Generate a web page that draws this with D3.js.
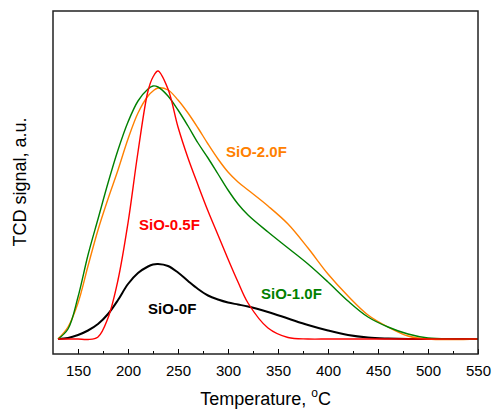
<!DOCTYPE html>
<html>
<head>
  <meta charset="utf-8">
  <script src="https://d3js.org/d3.v7.min.js"></script>
  <style>
    body { margin: 0; background: #fff; }
    text { font-family: Arial, "Liberation Sans", sans-serif; }
  </style>
</head>
<body>
<script>
// temperature grid (°C)
var temps = [130, 140, 150, 160, 170, 180, 190, 200, 210, 220, 225, 230, 240, 250, 260, 270, 280, 290, 300, 310, 320, 340, 360, 380, 400, 420, 440, 460, 480, 500, 525, 550];

// TCD signal, arbitrary units
var sio0F  = [15, 16, 19, 23.5, 30, 40, 54, 70, 81, 87.5, 89.5, 90, 88, 81.5, 73, 65, 58.5, 54.5, 51.5, 49.5, 47.5, 42, 35.5, 29, 23.5, 19, 16.5, 15.5, 15, 15, 15, 15];
var sio05F = [15, 15, 15, 14.5, 17, 36, 74, 131, 202, 263, 277, 283, 265, 227, 196, 169, 143, 119, 95, 72, 51, 26, 16.5, 15, 15, 15, 15, 15, 15, 15, 15, 15];
var sio10F = [15, 25, 57, 99, 135, 171, 204, 232, 253, 265, 268, 267, 258, 244, 228, 211, 196, 180, 164, 150, 139, 122, 106, 90, 72, 53, 37, 27, 20, 16, 15, 15];
var sio20F = [15, 27, 51, 88, 124, 155, 184, 215, 241, 258, 263, 266, 264, 254, 241, 226, 210, 195, 182, 172, 164, 148, 130, 106, 80, 58, 39, 27, 18, 15, 14.5, 15];

var seriesNames  = ["SiO-0F", "SiO-0.5F", "SiO-1.0F", "SiO-2.0F"];
var seriesColors = ["#000000", "#ff0000", "#008000", "#ff8000"];
var seriesWidths = [2, 1.4, 1.4, 1.4];
// label anchors in data units (temperature, signal)
var labelT = [220, 211, 333, 298];
var labelV = [40.5, 124.5, 55.5, 197];

var xTicks = [150, 200, 250, 300, 350, 400, 450, 500, 550];
var xMinor = [175, 225, 275, 325, 375, 425, 475, 525];

var width = 492, height = 410;
var margin = { top: 11, right: 14, bottom: 56, left: 53 };

var x = d3.scaleLinear().domain([125, 550]).range([margin.left, width - margin.right]);
var y = d3.scaleLinear().domain([0, 343]).range([height - margin.bottom, margin.top]);

var svg = d3.select("body").append("svg")
    .attr("width", width)
    .attr("height", height);

var allSeries = [sio0F, sio05F, sio10F, sio20F];

var line = d3.line()
    .x(function(d) { return x(d[0]); })
    .y(function(d) { return y(d[1]); })
    .curve(d3.curveCatmullRom.alpha(0.5));

// draw order: black, orange, green, red on top
[0, 3, 2, 1].forEach(function(i) {
  svg.append("path")
      .datum(temps.map(function(t, k) { return [t, allSeries[i][k]]; }))
      .attr("d", line)
      .attr("fill", "none")
      .attr("stroke", seriesColors[i])
      .attr("stroke-width", seriesWidths[i]);
});

// labels
seriesNames.forEach(function(n, i) {
  svg.append("text")
      .attr("x", x(labelT[i]))
      .attr("y", y(labelV[i]))
      .attr("fill", seriesColors[i])
      .attr("font-size", 15)
      .attr("font-weight", "bold")
      .text(n);
});

// bottom axis, ticks inward
var xAxis = svg.append("g")
    .attr("transform", "translate(0," + (height - margin.bottom) + ")")
    .call(d3.axisBottom(x).tickValues(xTicks).tickSize(-5).tickSizeOuter(0).tickPadding(11));
xAxis.select(".domain").remove();
xAxis.selectAll(".tick line").attr("stroke", "#000").attr("stroke-width", 1);
xAxis.selectAll(".tick text").attr("font-size", 15).attr("fill", "#000")
    .style("font-family", "Arial, 'Liberation Sans', sans-serif");

var xAxisMinor = svg.append("g")
    .attr("transform", "translate(0," + (height - margin.bottom) + ")")
    .call(d3.axisBottom(x).tickValues(xMinor).tickSize(-3).tickFormat(""));
xAxisMinor.select(".domain").remove();
xAxisMinor.selectAll(".tick line").attr("stroke", "#000").attr("stroke-width", 1);

// frame
svg.append("rect")
    .attr("x", margin.left)
    .attr("y", margin.top)
    .attr("width", width - margin.left - margin.right)
    .attr("height", height - margin.top - margin.bottom)
    .attr("fill", "none")
    .attr("stroke", "#222")
    .attr("stroke-width", 1.5);

// axis titles
var xt = svg.append("text")
    .attr("x", (x.range()[0] + x.range()[1]) / 2)
    .attr("y", 405)
    .attr("text-anchor", "middle")
    .attr("font-size", 18)
    .attr("fill", "#000");
xt.append("tspan").text("Temperature, ");
xt.append("tspan").attr("font-size", 12).attr("dy", -8).text("o");
xt.append("tspan").attr("dy", 8).text("C");

svg.append("text")
    .attr("transform", "translate(26,182) rotate(-90)")
    .attr("text-anchor", "middle")
    .attr("font-size", 18)
    .attr("fill", "#000")
    .text("TCD signal, a.u.");
</script>
</body>
</html>
